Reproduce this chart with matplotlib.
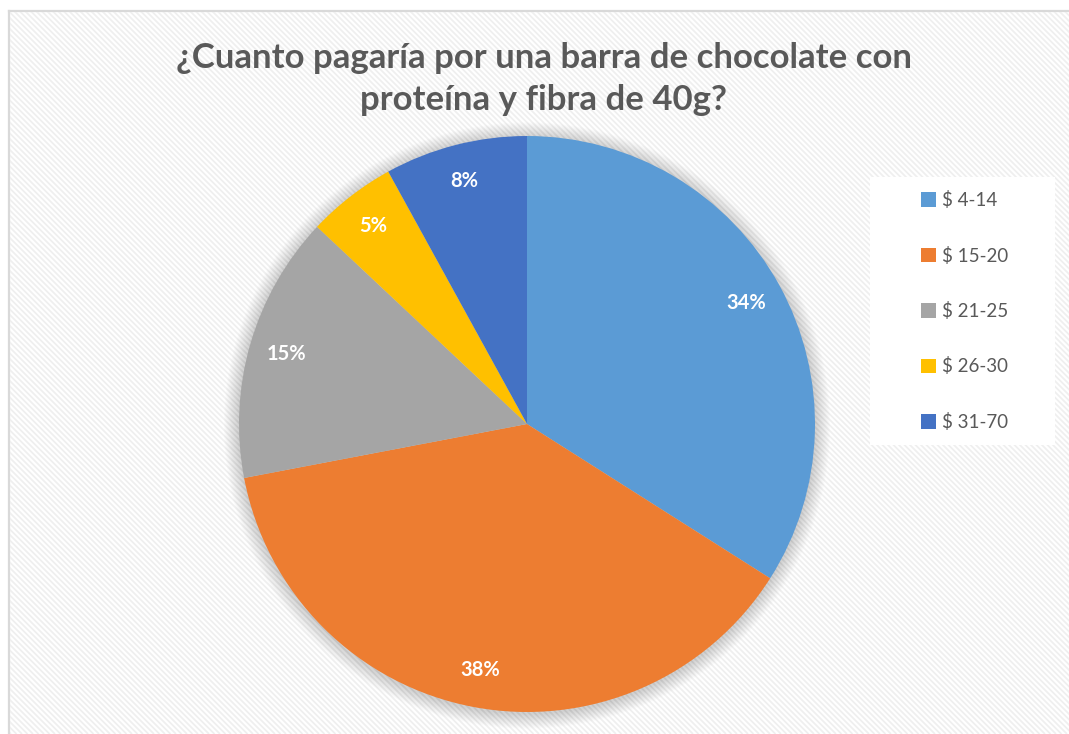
import matplotlib
matplotlib.use("Agg")
import matplotlib.pyplot as plt
from matplotlib.collections import LineCollection
from matplotlib.patches import Rectangle, Circle
import numpy as np

categories = ["$ 4-14", "$ 15-20", "$ 21-25", "$ 26-30", "$ 31-70"]
values = [34, 38, 15, 5, 8]
colors = ["#5B9BD5", "#ED7D31", "#A5A5A5", "#FFC000", "#4472C4"]
title = "¿Cuanto pagaría por una barra de chocolate con\nproteína y fibra de 40g?"

W, H = 1069, 734
fig = plt.figure(figsize=(W / 100, H / 100), dpi=100)
fig.patch.set_facecolor("white")

# background axes in pixel coordinates
bg = fig.add_axes([0, 0, 1, 1])
bg.set_xlim(0, W)
bg.set_ylim(H, 0)
bg.axis("off")
segs = []
step = 5.5
x0 = -H
while x0 < W:
    segs.append([(x0, 0), (x0 + H, H)])
    x0 += step
bg.add_collection(LineCollection(segs, colors="#efefef", linewidths=1.3, zorder=0))
bg.plot([9, 9], [11, H], color="#d9d9d9", lw=1.6, zorder=2)
bg.plot([9, W], [11, 11], color="#d9d9d9", lw=1.6, zorder=2)
bg.add_patch(Rectangle((0, 0), 9, H, color="white", zorder=1))
bg.add_patch(Rectangle((0, 0), W, 11, color="white", zorder=1))
bg.add_patch(Rectangle((870, 177), 185, 268, facecolor="white", edgecolor="none", zorder=1))

# pie axes
cx, cy, R = 527, 424, 288
pad = 1.15
ax = fig.add_axes([(cx - R * pad) / W, (H - cy - R * pad) / H, 2 * R * pad / W, 2 * R * pad / H])
ax.set_xlim(-pad, pad)
ax.set_ylim(-pad, pad)
ax.set_aspect("equal")
ax.axis("off")
for k in range(1, 16):
    ax.add_patch(Circle((0, -0.005), 1 + k * 0.0035, facecolor="#000000", alpha=0.012, edgecolor="none", zorder=0))

wedges, texts, autotexts = ax.pie(
    values, colors=colors, startangle=90, counterclock=False, radius=1,
    autopct=lambda p: f"{p:.0f}%", pctdistance=0.87,
    wedgeprops=dict(linewidth=0, zorder=2),
    textprops=dict(color="white", fontsize=14.5, fontweight="bold", family="Lato"),
)
for w in wedges:
    w.set_zorder(2)
for t in autotexts:
    t.set_zorder(3)
ax.set_xlim(-pad, pad)
ax.set_ylim(-pad, pad)

fig.text(544 / W, 1 - 79 / H, title, ha="center", va="center", fontsize=25,
         fontweight="bold", color="#595959", family="Lato", linespacing=1.42)

leg = fig.legend(wedges, categories, loc="center left", bbox_to_anchor=(912 / W, 1 - 311 / H),
                 frameon=False, handlelength=0.8, handleheight=0.8, handletextpad=0.3,
                 labelspacing=2.0, borderpad=0,
                 prop=dict(family="Lato", size=13.5))
for t in leg.get_texts():
    t.set_color("#595959")

fig.savefig("out.png", dpi=100)
